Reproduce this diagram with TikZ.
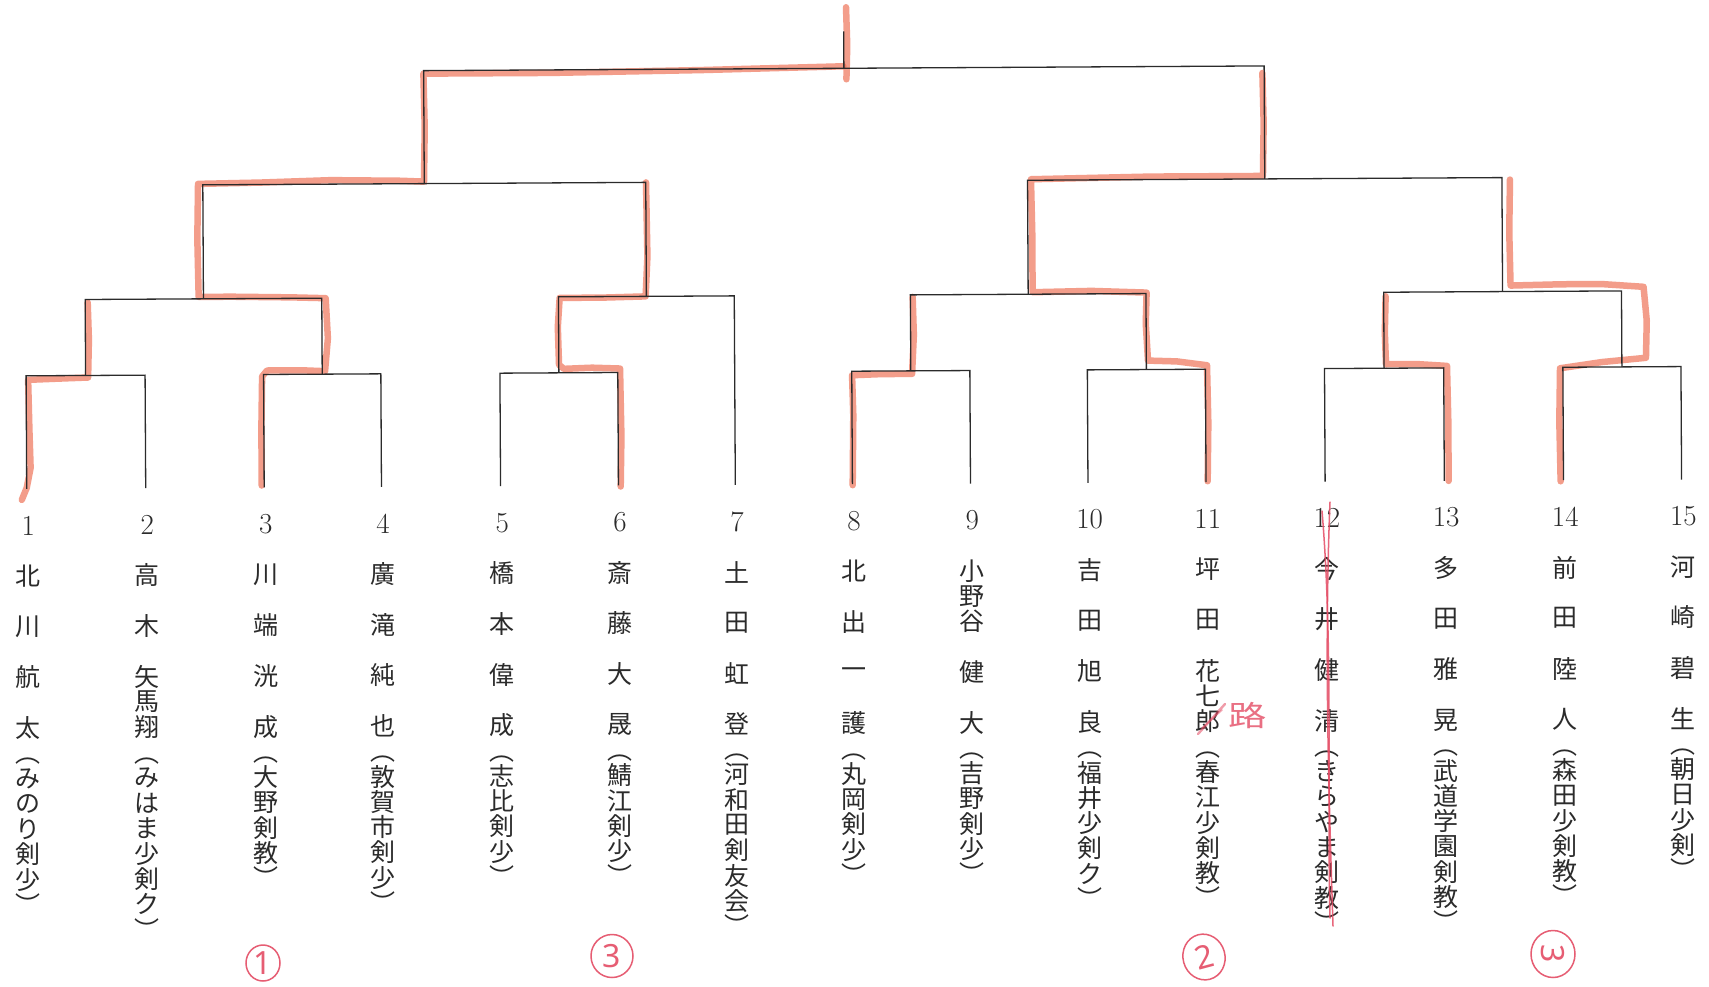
\documentclass[tikz,border=0pt]{standalone}
\usepackage{fontspec}
\usepackage{graphicx}
\usetikzlibrary{shapes.geometric}
\newfontfamily\cjk{Noto Sans CJK JP}
\newfontfamily\handf{Noto Sans}
\definecolor{ink}{HTML}{2B2B2B}
\definecolor{hlc}{RGB}{238,112,84}
\definecolor{penred}{RGB}{228,76,100}
\makeatletter
\newlength\vpitch
\setlength\vpitch{25.3pt}
\newcommand\vcell[1]{\hbox to 0pt{\hss\vbox to\vpitch{\vss\hbox{#1}\vss}\hss}}
\newcommand\vseq[1]{\vbox{\offinterlineskip\@tfor\vs@item:=#1\do{\vcell{\vs@item}}}}
\makeatother
\newcommand\numf{\normalfont\fontsize{29}{29}\selectfont}
\newcommand\lp{\rotatebox[origin=c]{-90}{（}}
\newcommand\rp{\rotatebox[origin=c]{-90}{）}}
\newcommand\player[4]{\node[lab] (p#1) at (#2,512.85) {\vseq{{\numf #1}~#3\lp #4\rp}};}
\begin{document}
\begin{tikzpicture}[x=1pt,y=-1pt,
  bk/.style={draw=ink,line width=1.3pt},
  hl/.style={draw=hlc,line width=6.5pt,opacity=0.68,line cap=round,line join=round},
  penline/.style={draw=penred,line width=1.5pt,opacity=0.85,line cap=round},
  lab/.style={anchor=north,inner sep=0pt,text=ink,font=\cjk\fontsize{25}{25}\selectfont},
  rank/.style={ellipse,draw=penred,line width=1.5pt,inner sep=0pt,text=penred,opacity=0.9,font=\handf\fontsize{32}{32}\selectfont},
  fixtext/.style={inner sep=0pt,text=penred,opacity=0.8,font=\cjk\fontsize{32}{32}\selectfont}]
\fill[white] (0,0) rectangle (1709,986);
\path[use as bounding box] (0,0) rectangle (1709,986);
\begin{scope}[rotate=0.32]
% leaves
\coordinate (L1) at (24,489);     \coordinate (H1) at (24,376);
\coordinate (L2) at (143,489);    \coordinate (H2) at (143,376);
\coordinate (L3) at (261.5,489);  \coordinate (H3) at (261.5,376);
\coordinate (L4) at (378.8,489);  \coordinate (H4) at (378.8,376);
\coordinate (L5) at (497.9,489);  \coordinate (H5) at (497.9,376);
\coordinate (L6) at (615.8,489);  \coordinate (H6) at (615.8,376);
\coordinate (L7) at (732.7,489);  \coordinate (H7) at (732.7,300);
\coordinate (L8) at (849.8,489);  \coordinate (H8) at (849.8,376);
\coordinate (L9) at (967.9,489);  \coordinate (H9) at (967.9,376);
\coordinate (L10) at (1085.4,489); \coordinate (H10) at (1085.4,376);
\coordinate (L11) at (1203.5,489); \coordinate (H11) at (1203.5,376);
\coordinate (L12) at (1322.6,489); \coordinate (H12) at (1322.6,376);
\coordinate (L13) at (1441.8,489); \coordinate (H13) at (1441.8,376);
\coordinate (L14) at (1561,489);   \coordinate (H14) at (1561,376);
\coordinate (L15) at (1679.1,489); \coordinate (H15) at (1679.1,376);
% round 1 junctions
\coordinate (A1f) at (83.5,376);    \coordinate (A1h) at (83.5,300);
\coordinate (A2f) at (320.15,376);  \coordinate (A2h) at (320.15,300);
\coordinate (A3f) at (556.85,376);  \coordinate (A3h) at (556.85,300);
\coordinate (A4f) at (908.85,376);  \coordinate (A4h) at (908.85,300);
\coordinate (A5f) at (1144.45,376); \coordinate (A5h) at (1144.45,300);
\coordinate (A6f) at (1382.2,376);  \coordinate (A6h) at (1382.2,300);
\coordinate (A7f) at (1620.05,376); \coordinate (A7h) at (1620.05,300);
% round 2 junctions
\coordinate (B1f) at (201.8,300);   \coordinate (B1h) at (201.8,186);
\coordinate (B2f) at (644.8,300);   \coordinate (B2h) at (644.8,186);
\coordinate (B3f) at (1026.65,300); \coordinate (B3h) at (1026.65,186);
\coordinate (B4f) at (1501.1,300);  \coordinate (B4h) at (1501.1,186);
% semifinal junctions
\coordinate (C1f) at (423.3,186);   \coordinate (C1h) at (423.3,73);
\coordinate (C2f) at (1263.9,186);  \coordinate (C2h) at (1263.9,73);
% final
\coordinate (Ff) at (843.6,73);     \coordinate (Fh) at (843.6,36);

% winner highlights (coloured pencil)
\draw[hl] (19,500) -- (24,488) -- (28,468) -- (27,430) -- (26,380) -- (55,379) -- (86,378) -- (87,340) -- (86,303);
\draw[hl] (259,487) -- (259,430) -- (260,378) -- (265,372) -- (300,372) -- (323,373) -- (326,340) -- (324,300) -- (290,299) -- (230,298) -- (197,298) -- (196,240) -- (197,185) -- (260,184) -- (330,182) -- (400,183) -- (423,184) -- (424,130) -- (423,76) -- (550,76) -- (700,74) -- (843,71);
\draw[hl] (846,84) -- (847,50) -- (846,12);
\draw[hl] (618,490) -- (619,440) -- (618,372) -- (590,371) -- (562,372) -- (557,368) -- (556,330) -- (558,301) -- (600,301) -- (644,300) -- (646,260) -- (645,186);
\draw[hl] (850,490) -- (851,420) -- (850,380) -- (880,379) -- (910,379) -- (912,340) -- (911,302);
\draw[hl] (1205,488) -- (1206,430) -- (1205,372) -- (1175,368) -- (1146,367) -- (1144,330) -- (1145,299) -- (1090,297) -- (1031,298) -- (1031,240) -- (1030,185) -- (1150,183) -- (1262,183) -- (1263,130) -- (1262,80);
\draw[hl] (1446,489) -- (1446,430) -- (1445,374) -- (1415,372) -- (1384,372) -- (1383,340) -- (1384,304);
\draw[hl] (1558,490) -- (1557,430) -- (1558,377) -- (1600,371) -- (1644,367) -- (1645,330) -- (1642,296) -- (1600,293) -- (1560,293) -- (1509,294) -- (1508,240) -- (1509,188);

% bracket lines
\draw[bk] (L1) -- (H1) -- (H2) -- (L2);
\draw[bk] (L3) -- (H3) -- (H4) -- (L4);
\draw[bk] (L5) -- (H5) -- (H6) -- (L6);
\draw[bk] (L8) -- (H8) -- (H9) -- (L9);
\draw[bk] (L10) -- (H10) -- (H11) -- (L11);
\draw[bk] (L12) -- (H12) -- (H13) -- (L13);
\draw[bk] (L14) -- (H14) -- (H15) -- (L15);
\draw[bk] (A1f) -- (A1h) -- (A2h) -- (A2f);
\draw[bk] (A3f) -- (A3h) -- (H7) -- (L7);
\draw[bk] (A4f) -- (A4h) -- (A5h) -- (A5f);
\draw[bk] (A6f) -- (A6h) -- (A7h) -- (A7f);
\draw[bk] (B1f) -- (B1h) -- (B2h) -- (B2f);
\draw[bk] (B3f) -- (B3h) -- (B4h) -- (B4f);
\draw[bk] (C1f) -- (C1h) -- (C2h) -- (C2f);
\draw[bk] (Ff) -- (Fh);

% players
\player{1}{25.5}{北~川~航~太}{みのり剣少}
\player{2}{144.5}{高~木~矢馬翔}{みはま少剣ク}
\player{3}{263}{川~端~洸~成}{大野剣教}
\player{4}{380.3}{廣~滝~純~也}{敦賀市剣少}
\player{5}{499.4}{橋~本~偉~成}{志比剣少}
\player{6}{617.3}{斎~藤~大~晟}{鯖江剣少}
\player{7}{734.2}{土~田~虹~登}{河和田剣友会}
\player{8}{851.3}{北~出~一~護}{丸岡剣少}
\player{9}{969.4}{小野谷~健~大}{吉野剣少}
\player{10}{1086.9}{吉~田~旭~良}{福井少剣ク}
\player{11}{1205}{坪~田~花七郎}{春江少剣教}
\player{12}{1324.1}{今~井~健~清}{きらやま剣教}
\player{13}{1443.3}{多~田~雅~晃}{武道学園剣教}
\player{14}{1562.5}{前~田~陸~人}{森田少剣教}
\player{15}{1680.6}{河~崎~碧~生}{朝日少剣}
\end{scope}

% red pen annotations
\node[rank,minimum width=34pt,minimum height=36pt] (rk1) at (263,963) {1};
\node[rank,minimum width=42pt,minimum height=43pt] (rk3a) at (612,956) {3};
\node[rank,minimum width=42pt,minimum height=46pt,rotate=15] (rk2) at (1204,957) {2};
\node[rank,minimum width=44pt,minimum height=47pt,rounded corners=14pt] (rk3b) at (1553,954) {\rotatebox{-90}{3}};
\node[fixtext] (fix) at (1248,716) {\scalebox{1.2}[0.9]{路}};
\draw[penline,line width=2.4pt,opacity=0.55] (1198,734) -- (1225,704);
\draw[penline,opacity=0.5] (1202,728) -- (1222,710);
\draw[penline] (1330,502) .. controls (1324,650) and (1329,800) .. (1333,926);
\draw[penline] (1322,511) .. controls (1333,640) and (1327,790) .. (1330,918);
\end{tikzpicture}
\end{document}
